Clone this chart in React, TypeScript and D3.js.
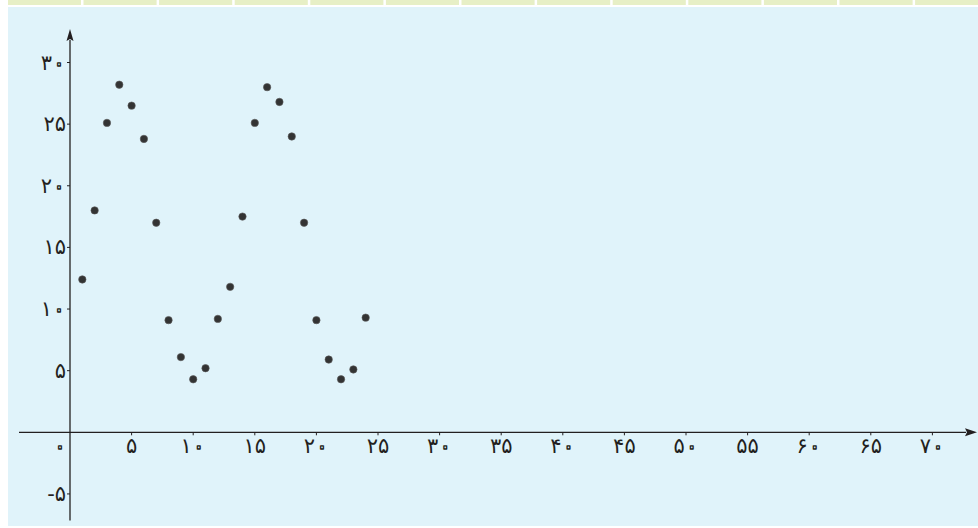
import React from "react";
import * as d3 from "d3";

const xValues = [1, 2, 3, 4, 5, 6, 7, 8, 9, 10, 11, 12, 13, 14, 15, 16, 17, 18, 19, 20, 21, 22, 23, 24];
const yValues = [12.4, 18, 25.1, 28.2, 26.5, 23.8, 17, 9.1, 6.1, 4.3, 5.2, 9.2, 11.8, 17.5, 25.1, 28, 26.8, 24, 17, 9.1, 5.9, 4.3, 5.1, 9.3];
const xTicks = [5, 10, 15, 20, 25, 30, 35, 40, 45, 50, 55, 60, 65, 70];
const yTicks = [-5, 5, 10, 15, 20, 25, 30];
const stripCells = d3.range(13);

const W = 978;
const H = 528;
const BG = "#e0f3fa";
const INK = "#231f20";

const FA = "۰۱۲۳۴۵۶۷۸۹";

function FaNum({ n }: { n: number }) {
  const s = String(n);
  return (
    <>
      {s.split("").map((ch, i) => {
        if (ch === "0") {
          return (
            <tspan
              key={i}
              fill={BG}
              stroke={INK}
              strokeWidth={1.3}
              strokeLinejoin="round"
              fontSize={26}
              dy={2}
            >
              {FA[0]}
            </tspan>
          );
        }
        if (/\d/.test(ch)) return <tspan key={i}>{FA[+ch]}</tspan>;
        return <tspan key={i}>{ch}</tspan>;
      })}
    </>
  );
}

export default function App() {
  const x = d3.scaleLinear().domain([0, 70]).range([70, 932.4]);
  const y = d3.scaleLinear().domain([0, 30]).range([432.3, 62.5]);
  const font = "'DejaVu Sans', sans-serif";
  const pts = xValues.map((v, i) => ({ x: v, y: yValues[i] }));
  const cellW = 75.6;
  const fs = 21;

  return (
    <svg
      width={W}
      height={H}
      style={{ position: "absolute", left: 0, top: 0, display: "block" }}
      fontFamily={font}
    >
      <rect x={0} y={0} width={W} height={H} fill="#ffffff" />
      {stripCells.map((i) => {
        const x0 = i === 0 ? 8 : 83.5 + (i - 1) * cellW;
        const x1 = 81 + i * cellW;
        return (
          <rect key={i} x={x0} y={0} width={Math.min(x1, W) - x0} height={5} fill="#e7efc6" />
        );
      })}
      <rect x={8} y={7} width={W - 8} height={519} fill={BG} />

      {/* x axis */}
      <line x1={19} x2={966} y1={y(0)} y2={y(0)} stroke={INK} strokeWidth={1.3} />
      <path
        d={`M${977},${y(0)} L${965},${y(0) - 4} L${967},${y(0)} L${965},${y(0) + 4} Z`}
        fill={INK}
      />
      {/* y axis */}
      <line x1={x(0)} x2={x(0)} y1={40} y2={520.5} stroke={INK} strokeWidth={1.3} />
      <path
        d={`M${x(0)},${29} L${x(0) - 3.5},${41} L${x(0)},${39} L${x(0) + 3.5},${41} Z`}
        fill={INK}
      />

      {xTicks.map((t) => (
        <g key={"xt" + t}>
          <line x1={x(t)} x2={x(t)} y1={y(0)} y2={y(0) + 3} stroke={INK} strokeWidth={1} />
          <text x={x(t)} y={y(0) + 21} textAnchor="middle" fontSize={fs} fill={INK}>
            <FaNum n={t} />
          </text>
        </g>
      ))}
      <text x={x(0) - 10} y={y(0) + 21} textAnchor="middle" fontSize={fs} fill={INK}>
        <FaNum n={0} />
      </text>

      {yTicks.map((t) => (
        <g key={"yt" + t}>
          <line x1={x(0) - 3} x2={x(0)} y1={y(t)} y2={y(t)} stroke={INK} strokeWidth={1} />
          <text x={x(0) - 4} y={y(t) + 7} textAnchor="end" fontSize={fs} fill={INK}>
            {t < 0 ? "-" : ""}
            <FaNum n={Math.abs(t)} />
          </text>
        </g>
      ))}

      {pts.map((p, i) => (
        <circle
          key={i}
          cx={x(p.x)}
          cy={y(p.y)}
          r={3.7}
          fill="#333333"
          stroke="#5a5a5a"
          strokeWidth={0.6}
        />
      ))}
    </svg>
  );
}
